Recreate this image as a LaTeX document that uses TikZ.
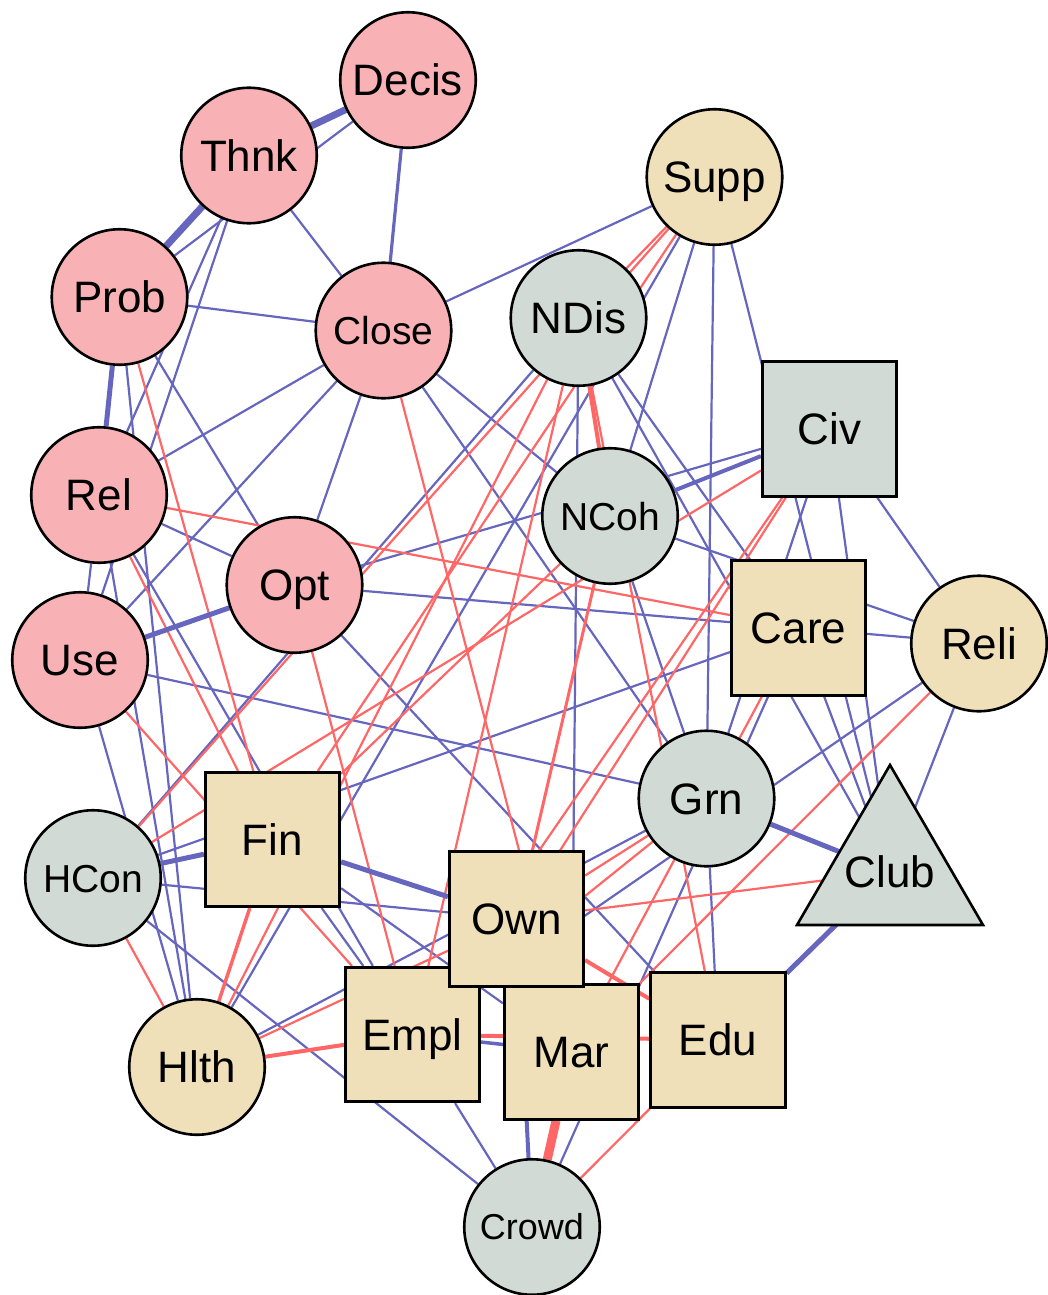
\documentclass[tikz,border=0pt]{standalone}
\usepackage{fontspec}
\setmainfont{Liberation Sans}
\usetikzlibrary{backgrounds}
\definecolor{pinkn}{HTML}{F8B2B6}
\definecolor{tann}{HTML}{F0E0B9}
\definecolor{greyn}{HTML}{D2DAD6}
\definecolor{posc}{HTML}{6666BE}
\definecolor{negc}{HTML}{FF6666}
\begin{document}
\begin{tikzpicture}[x=1pt,y=-1pt,
  nd/.style={draw=black,line width=2.6pt,inner sep=0pt,font=\fontsize{44}{44}\selectfont,text height=31.5pt,text depth=0pt},
  mid/.style={font=\fontsize{39}{39}\selectfont,text height=28pt},
  sml/.style={font=\fontsize{36}{36}\selectfont,text height=25.8pt},
  circ/.style={nd,circle,minimum size=135.5pt},
  sqr/.style={nd,rectangle,minimum size=134.5pt},
  pkc/.style={circ,fill=pinkn},
  tnc/.style={circ,fill=tann},
  gyc/.style={circ,fill=greyn},
  tns/.style={sqr,fill=tann},
  gys/.style={sqr,fill=greyn},
  pe/.style={draw=posc,line width=2.2pt},
  ne/.style={draw=negc,line width=2.2pt}]
\useasboundingbox (0,0) rectangle (1048,1295);
% nodes
\node[pkc] (Decis) at (408,80) {Decis};
\node[pkc] (Thnk) at (249,155.5) {Thnk};
\node[pkc] (Prob) at (119.5,297) {Prob};
\node[pkc,mid] (Close) at (383.5,330.5) {Close};
\node[tnc] (Supp) at (714.5,177) {Supp};
\node[gyc] (NDis) at (578.5,318) {NDis};
\node[gyc,mid] (NCoh) at (610,516) {NCoh};
\node[gys] (Civ) at (829.5,429) {Civ};
\node[pkc] (Rel) at (99,495) {Rel};
\node[pkc] (Use) at (80,660) {Use};
\node[pkc] (Opt) at (294.5,585) {Opt};
\node[tns] (Care) at (798.5,628) {Care};
\node[tnc] (Reli) at (979,643.5) {Reli};
\node[gyc] (Grn) at (706.5,798.5) {Grn};
\node[tns] (Fin) at (272.5,839.5) {Fin};
\draw[fill=greyn,line width=2.6pt,line join=miter] (890,765) -- (983,925) -- (797,925) -- cycle;
\node[inner sep=0pt,font=\fontsize{44}{44}\selectfont,text height=31.5pt,text depth=0pt] (Club) at (890,872) {Club};
\node[gyc,mid] (HCon) at (93,878) {HCon};
\node[tns] (Empl) at (412.5,1034.5) {Empl};
\node[tns] (Mar) at (571.5,1052) {Mar};
\node[tns] (Edu) at (718,1040) {Edu};
\node[tns] (Own) at (516.5,919) {Own};
\node[tnc] (Hlth) at (197,1067) {Hlth};
\node[gyc,sml] (Crowd) at (532,1227) {Crowd};
% edges
\begin{scope}[on background layer]
% thin positive
\draw[pe] (Decis) -- (Prob);
\draw[pe] (Thnk) -- (Close);
\draw[pe] (Prob) -- (Close);
\draw[pe] (Close) -- (Supp);
\draw[pe] (Thnk) -- (Rel);
\draw[pe] (Thnk) -- (Use);
\draw[pe] (Prob) -- (Hlth);
\draw[pe] (Prob) -- (Opt);
\draw[pe] (Close) -- (Rel);
\draw[pe] (Close) -- (Use);
\draw[pe] (Close) -- (Opt);
\draw[pe] (Close) -- (NCoh);
\draw[pe] (Close) -- (Grn);
\draw[pe] (Rel) -- (Use);
\draw[pe] (Rel) -- (Opt);
\draw[pe] (Rel) -- (Hlth);
\draw[pe] (Rel) -- (Empl);
\draw[pe] (Use) -- (Grn);
\draw[pe] (Use) -- (Hlth);
\draw[pe] (Opt) -- (Care);
\draw[pe] (Opt) -- (Edu);
\draw[pe] (Civ) -- (Opt);
\draw[pe] (HCon) -- (Care);
\draw[pe] (HCon) -- (Own);
\draw[pe] (HCon) -- (Crowd);
\draw[pe] (NDis) -- (HCon);
\draw[pe] (Fin) -- (Mar);
\draw[pe] (Fin) -- (Empl);
\draw[pe] (Supp) -- (Hlth);
\draw[pe] (Hlth) -- (Grn);
\draw[pe] (Empl) -- (Crowd);
\draw[pe] (Empl) -- (Reli);
\draw[pe] (NDis) -- (Mar);
\draw[pe] (NDis) -- (Care);
\draw[pe] (NDis) -- (Club);
\draw[pe] (Supp) -- (NCoh);
\draw[pe] (Supp) -- (Grn);
\draw[pe] (Supp) -- (Club);
\draw[pe] (Civ) -- (Grn);
\draw[pe] (Civ) -- (Club);
\draw[pe] (Civ) -- (Reli);
\draw[pe] (NCoh) -- (Reli);
\draw[pe] (NCoh) -- (Grn);
\draw[pe] (Care) -- (Reli);
\draw[pe] (Care) -- (Club);
\draw[pe] (Care) -- (Crowd);
\draw[pe] (Reli) -- (Club);
\draw[pe] (Grn) -- (Edu);
% thin negative
\draw[ne] (Prob) -- (Fin);
\draw[ne] (Rel) -- (Care);
\draw[ne] (Rel) -- (Fin);
\draw[ne] (Use) -- (Empl);
\draw[ne] (Opt) -- (Empl);
\draw[ne] (Close) -- (Mar);
\draw[ne] (Supp) -- (NDis);
\draw[ne] (Supp) -- (HCon);
\draw[ne] (Supp) -- (Fin);
\draw[ne] (NDis) -- (Hlth);
\draw[ne] (NDis) -- (Empl);
\draw[ne] (NDis) -- (Edu);
\draw[ne] (Civ) -- (HCon);
\draw[ne] (Civ) -- (Own);
\draw[ne] (Civ) -- (Empl);
\draw[ne] (NCoh) -- (Fin);
\draw[ne] (Hlth) -- (Own);
\draw[ne] (HCon) -- (Hlth);
\draw[ne] (Own) -- (Grn);
\draw[ne] (Empl) -- (Grn);
\draw[ne] (Club) -- (Own);
\draw[ne] (Care) -- (Mar);
\draw[ne] (Reli) -- (Mar);
\draw[ne] (Edu) -- (Crowd);
% medium
\draw[pe,line width=3.2pt] (Decis) -- (Close);
\draw[ne,line width=3pt] (NCoh) -- (Own);
\draw[ne,line width=3.5pt] (Hlth) -- (Fin);
\draw[pe,line width=3.5pt] (Empl) -- (Mar);
\draw[pe,line width=4pt] (Own) -- (Crowd);
\draw[pe,line width=4pt] (Civ) -- (NCoh);
\draw[ne,line width=4pt] (NDis) -- (NCoh);
\draw[ne,line width=4pt] (Hlth) -- (Empl);
\draw[ne,line width=4pt] (Empl) -- (Edu);
\draw[ne,line width=4pt] (Own) -- (Edu);
% thick
\draw[pe,line width=5pt] (Prob) -- (Rel);
\draw[pe,line width=5pt] (Use) -- (Opt);
\draw[pe,line width=5pt] (HCon) -- (Fin);
\draw[pe,line width=5pt] (Fin) -- (Own);
\draw[pe,line width=5pt] (Grn) -- (Club);
\draw[pe,line width=5pt] (Edu) -- (Club);
\draw[pe,line width=7pt] (Thnk) -- (Decis);
\draw[pe,line width=7pt] (Thnk) -- (Prob);
\draw[ne,line width=9pt] (Mar) -- (Crowd);
\end{scope}
\end{tikzpicture}
\end{document}
